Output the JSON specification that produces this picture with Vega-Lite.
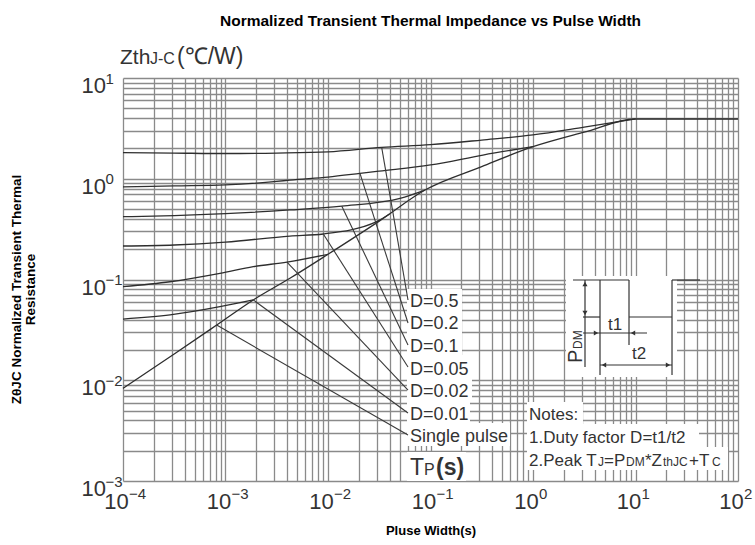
{
  "$schema": "https://vega.github.io/schema/vega-lite/v6.json",
  "width": 615,
  "height": 403,
  "autosize": {"type": "none"},
  "padding": {"left": 123, "top": 78, "right": 17, "bottom": 64},
  "background": "white",
  "title": {
    "text": "Normalized Transient Thermal Impedance vs Pulse Width",
    "font": "Liberation Sans",
    "fontSize": 15.5,
    "fontWeight": "bold",
    "color": "#000000",
    "anchor": "middle",
    "offset": 17
  },
  "config": {
    "view": {"stroke": null},
    "font": "Liberation Sans"
  },
  "resolve": {"axis": {"x": "independent", "y": "independent"}},
  "datasets": {
    "curves": [
      {"series": "Single pulse", "t": 0.0001, "z": 0.0083},
      {"series": "Single pulse", "t": 0.000316, "z": 0.0182},
      {"series": "Single pulse", "t": 0.00082, "z": 0.0353},
      {"series": "Single pulse", "t": 0.001866, "z": 0.0627},
      {"series": "Single pulse", "t": 0.00425, "z": 0.1028},
      {"series": "Single pulse", "t": 0.01, "z": 0.178},
      {"series": "Single pulse", "t": 0.0316, "z": 0.38},
      {"series": "Single pulse", "t": 0.0883, "z": 0.773},
      {"series": "Single pulse", "t": 0.316, "z": 1.32},
      {"series": "Single pulse", "t": 1, "z": 2.08},
      {"series": "Single pulse", "t": 3.16, "z": 2.9},
      {"series": "Single pulse", "t": 10, "z": 3.92},
      {"series": "Single pulse", "t": 100, "z": 3.92},

      {"series": "D=0.5", "t": 0.0001, "z": 1.82},
      {"series": "D=0.5", "t": 0.000316, "z": 1.8},
      {"series": "D=0.5", "t": 0.001, "z": 1.78},
      {"series": "D=0.5", "t": 0.00316, "z": 1.8},
      {"series": "D=0.5", "t": 0.01, "z": 1.85},
      {"series": "D=0.5", "t": 0.0334, "z": 2.05},
      {"series": "D=0.5", "t": 0.1, "z": 2.18},
      {"series": "D=0.5", "t": 0.316, "z": 2.42},
      {"series": "D=0.5", "t": 1, "z": 2.72},
      {"series": "D=0.5", "t": 3.16, "z": 3.25},
      {"series": "D=0.5", "t": 10, "z": 3.92},

      {"series": "D=0.2", "t": 0.0001, "z": 0.83},
      {"series": "D=0.2", "t": 0.000316, "z": 0.85},
      {"series": "D=0.2", "t": 0.001, "z": 0.87},
      {"series": "D=0.2", "t": 0.00316, "z": 0.94},
      {"series": "D=0.2", "t": 0.00425, "z": 0.97},
      {"series": "D=0.2", "t": 0.01, "z": 1.04},
      {"series": "D=0.2", "t": 0.0205, "z": 1.13},
      {"series": "D=0.2", "t": 0.0316, "z": 1.19},
      {"series": "D=0.2", "t": 0.1, "z": 1.37},
      {"series": "D=0.2", "t": 0.325, "z": 1.72},
      {"series": "D=0.2", "t": 1, "z": 2.08},

      {"series": "D=0.1", "t": 0.0001, "z": 0.42},
      {"series": "D=0.1", "t": 0.000316, "z": 0.43},
      {"series": "D=0.1", "t": 0.001, "z": 0.45},
      {"series": "D=0.1", "t": 0.00425, "z": 0.49},
      {"series": "D=0.1", "t": 0.01361, "z": 0.536},
      {"series": "D=0.1", "t": 0.0504, "z": 0.64},
      {"series": "D=0.1", "t": 0.0883, "z": 0.773},

      {"series": "D=0.05", "t": 0.0001, "z": 0.215},
      {"series": "D=0.05", "t": 0.000316, "z": 0.22},
      {"series": "D=0.05", "t": 0.001, "z": 0.235},
      {"series": "D=0.05", "t": 0.00425, "z": 0.27},
      {"series": "D=0.05", "t": 0.009, "z": 0.283},
      {"series": "D=0.05", "t": 0.0299, "z": 0.375},
      {"series": "D=0.05", "t": 0.0398, "z": 0.446},

      {"series": "D=0.02", "t": 0.0001, "z": 0.085},
      {"series": "D=0.02", "t": 0.000288, "z": 0.095},
      {"series": "D=0.02", "t": 0.000883, "z": 0.115},
      {"series": "D=0.02", "t": 0.001866, "z": 0.134},
      {"series": "D=0.02", "t": 0.00398, "z": 0.149},
      {"series": "D=0.02", "t": 0.01, "z": 0.178},

      {"series": "D=0.01", "t": 0.0001, "z": 0.0405},
      {"series": "D=0.01", "t": 0.000288, "z": 0.0445},
      {"series": "D=0.01", "t": 0.000883, "z": 0.0537},
      {"series": "D=0.01", "t": 0.001866, "z": 0.0627}
    ],
    "leaders": [
      {"series": "D=0.5", "t": 0.0334, "z": 2.05, "t2": 0.06033, "z2": 0.06257},
      {"series": "D=0.2", "t": 0.0205, "z": 1.13, "t2": 0.06033, "z2": 0.037},
      {"series": "D=0.1", "t": 0.01361, "z": 0.536, "t2": 0.06033, "z2": 0.02239},
      {"series": "D=0.05", "t": 0.009, "z": 0.283, "t2": 0.06033, "z2": 0.01353},
      {"series": "D=0.02", "t": 0.00398, "z": 0.149, "t2": 0.06033, "z2": 0.008001},
      {"series": "D=0.01", "t": 0.001866, "z": 0.0627, "t2": 0.06033, "z2": 0.00473},
      {"series": "Single pulse", "t": 0.00082, "z": 0.0353, "t2": 0.06033, "z2": 0.002861}
    ],
    "boxes": [
      {"part": "D=0.5", "t": 0.05898, "t2": 0.2029, "z": 0.08043, "z2": 0.04868},
      {"part": "D=0.2", "t": 0.05898, "t2": 0.2029, "z": 0.04868, "z2": 0.02944},
      {"part": "D=0.1", "t": 0.05898, "t2": 0.2029, "z": 0.02944, "z2": 0.01781},
      {"part": "D=0.05", "t": 0.05898, "t2": 0.254, "z": 0.01781, "z2": 0.01053},
      {"part": "D=0.02", "t": 0.05898, "t2": 0.254, "z": 0.01053, "z2": 0.006368},
      {"part": "D=0.01", "t": 0.05898, "t2": 0.2428, "z": 0.006368, "z2": 0.003764},
      {"part": "Single pulse", "t": 0.05898, "t2": 0.5966, "z": 0.003764, "z2": 0.002226},
      {"part": "Tp", "t": 0.05898, "t2": 0.222, "z": 0.00194, "z2": 0.001},
      {"part": "Notes", "t": 0.8739, "t2": 3.074, "z": 0.006083, "z2": 0.003679},
      {"part": "Note 1", "t": 0.8739, "t2": 41.64, "z": 0.003679, "z2": 0.002176},
      {"part": "Note 2", "t": 0.8739, "t2": 79.89, "z": 0.002176, "z2": 0.001285},
      {"part": "Pulse", "t": 2.099, "t2": 25.41, "z": 0.1083, "z2": 0.01077}
    ],
    "pulse": [
      {"part": "high level", "t": 2.456, "z": 0.09886, "t2": 8.642, "z2": 0.09886},
      {"part": "next high level", "t": 22.71, "z": 0.09886, "t2": 42.59, "z2": 0.09886},
      {"part": "rising edge", "t": 4.505, "z": 0.09886, "t2": 4.505, "z2": 0.01127},
      {"part": "falling edge", "t": 8.642, "z": 0.09886, "t2": 8.642, "z2": 0.02239},
      {"part": "low level", "t": 8.642, "z": 0.04243, "t2": 22.71, "z2": 0.04243},
      {"part": "low extension", "t": 3.074, "z": 0.04243, "t2": 4.505, "z2": 0.04243},
      {"part": "next rising edge", "t": 22.71, "z": 0.09886, "t2": 22.71, "z2": 0.01127},
      {"part": "PDM dimension", "t": 3.216, "z": 0.09886, "t2": 3.216, "z2": 0.01355},
      {"part": "t1 dimension", "t": 3.074, "z": 0.02944, "t2": 12.95, "z2": 0.02944},
      {"part": "t2 dimension", "t": 4.505, "z": 0.01417, "t2": 22.71, "z2": 0.01417}
    ],
    "arrows": [
      {"part": "PDM top", "t": 3.216, "z": 0.09022, "dir": "up"},
      {"part": "PDM bottom", "t": 3.216, "z": 0.04651, "dir": "down"},
      {"part": "t1 start", "t": 4.118, "z": 0.02944, "dir": "right"},
      {"part": "t1 end", "t": 9.454, "z": 0.02944, "dir": "left"},
      {"part": "t2 start", "t": 4.929, "z": 0.01417, "dir": "left"},
      {"part": "t2 end", "t": 20.76, "z": 0.01417, "dir": "right"}
    ],
    "texts": [
      {"kind": "curve", "text": "D=0.5", "t": 0.0631, "z": 0.05333},
      {"kind": "curve", "text": "D=0.2", "t": 0.0631, "z": 0.0319},
      {"kind": "curve", "text": "D=0.1", "t": 0.0631, "z": 0.01907},
      {"kind": "curve", "text": "D=0.05", "t": 0.0631, "z": 0.0114},
      {"kind": "curve", "text": "D=0.02", "t": 0.0631, "z": 0.006822},
      {"kind": "curve", "text": "D=0.01", "t": 0.0631, "z": 0.004077},
      {"kind": "curve", "text": "Single pulse", "t": 0.0631, "z": 0.002438},
      {"kind": "note", "text": "Notes:", "t": 0.9142, "z": 0.004031},
      {"kind": "note", "text": "1.Duty factor D=t1/t2", "t": 0.9142, "z": 0.002383},
      {"kind": "note", "text": "2.Peak T", "t": 0.9142, "z": 0.001409},
      {"kind": "note", "text": "=P", "t": 4.929, "z": 0.001409},
      {"kind": "note", "text": "*Z", "t": 12.38, "z": 0.001409},
      {"kind": "note", "text": "+T", "t": 33.27, "z": 0.001409},
      {"kind": "sub", "text": "J", "t": 4.306, "z": 0.001409},
      {"kind": "sub", "text": "DM", "t": 8.08, "z": 0.001409},
      {"kind": "sub", "text": "thJC", "t": 18.55, "z": 0.001409},
      {"kind": "sub", "text": "C", "t": 55.76, "z": 0.001409},
      {"kind": "big", "text": "T", "t": 0.0631, "z": 0.001147},
      {"kind": "mid", "text": "P", "t": 0.0864, "z": 0.001147},
      {"kind": "bigbold", "text": "(s)", "t": 0.1132, "z": 0.001147},
      {"kind": "zth", "text": "Zth", "t": 0.0000935, "z": 13.77},
      {"kind": "mid", "text": "J-C", "t": 0.0001834, "z": 13.77},
      {"kind": "big", "text": "(℃/W)", "t": 0.0003366, "z": 13.77},
      {"kind": "note", "text": "t1", "t": 5.392, "z": 0.03153},
      {"kind": "note", "text": "t2", "t": 9.245, "z": 0.01626},
      {"kind": "rot", "text": "P", "t": 3.006, "z": 0.01483},
      {"kind": "rotsub", "text": "DM", "t": 3.006, "z": 0.02042}
    ]
  },
  "layer": [
    {
      "data": {"name": "boxes"},
      "mark": {"type": "rect", "fill": "white", "stroke": null},
      "encoding": {
        "x": {
          "field": "t",
          "type": "quantitative",
          "scale": {"type": "log", "domain": [0.0001, 100], "nice": false},
          "axis": {
            "orient": "bottom",
            "values": [0.0001, 0.0002, 0.0003, 0.0004, 0.0005, 0.0006, 0.0007, 0.0008, 0.0009,
                       0.001, 0.002, 0.003, 0.004, 0.005, 0.006, 0.007, 0.008, 0.009,
                       0.01, 0.02, 0.03, 0.04, 0.05, 0.06, 0.07, 0.08, 0.09,
                       0.1, 0.2, 0.3, 0.4, 0.5, 0.6, 0.7, 0.8, 0.9,
                       1, 2, 3, 4, 5, 6, 7, 8, 9,
                       10, 20, 30, 40, 50, 60, 70, 80, 90, 100],
            "labelExpr": "indexof([0.0001, 0.001, 0.01, 0.1, 1, 10, 100], datum.value) >= 0 ? '10' : ''",
            "grid": true,
            "gridColor": "#8a8a8a",
            "gridWidth": 1.3,
            "gridOpacity": 1,
            "domain": false,
            "ticks": false,
            "tickSize": 0,
            "labelFont": "Liberation Sans",
            "labelFontSize": 22,
            "labelColor": "#333333",
            "labelAlign": "center",
            "labelBaseline": "alphabetic",
            "labelOffset": -7,
            "labelPadding": 27,
            "labelOverlap": false,
            "labelBound": false,
            "labelFlush": false,
            "title": "Pluse Width(s)",
            "titleFont": "Liberation Sans",
            "titleFontSize": 13,
            "titleFontWeight": "bold",
            "titleColor": "#000000",
            "titlePadding": 12
          }
        },
        "x2": {"field": "t2"},
        "y": {
          "field": "z",
          "type": "quantitative",
          "scale": {"type": "log", "domain": [0.001, 10], "nice": false},
          "axis": {
            "orient": "left",
            "values": [0.001, 0.002, 0.003, 0.004, 0.005, 0.006, 0.007, 0.008, 0.009,
                       0.01, 0.02, 0.03, 0.04, 0.05, 0.06, 0.07, 0.08, 0.09,
                       0.1, 0.2, 0.3, 0.4, 0.5, 0.6, 0.7, 0.8, 0.9,
                       1, 2, 3, 4, 5, 6, 7, 8, 9, 10],
            "labelExpr": "indexof([0.001, 0.01, 0.1, 1, 10], datum.value) >= 0 ? '10' : ''",
            "grid": true,
            "gridColor": "#8a8a8a",
            "gridWidth": 1.3,
            "gridOpacity": 1,
            "domain": false,
            "ticks": false,
            "tickSize": 0,
            "labelFont": "Liberation Sans",
            "labelFontSize": 22,
            "labelColor": "#333333",
            "labelAlign": "left",
            "labelBaseline": "alphabetic",
            "labelOffset": 14.5,
            "labelPadding": 42,
            "labelOverlap": false,
            "labelBound": false,
            "title": ["ZθJC Normalized Transient Thermal", "Resistance"],
            "titleFont": "Liberation Sans",
            "titleFontSize": 13.5,
            "titleFontWeight": "bold",
            "titleColor": "#000000",
            "titleLineHeight": 14,
            "titlePadding": 44,
            "titleY": 211
          }
        },
        "y2": {"field": "z2"}
      }
    },
    {
      "data": {"name": "curves"},
      "mark": {"type": "line", "color": "#2e2e2e", "strokeWidth": 1.3, "interpolate": "monotone"},
      "encoding": {
        "x": {
          "field": "t",
          "type": "quantitative",
          "axis": {
            "orient": "bottom",
            "values": [0.0001, 0.001, 0.01, 0.1, 1, 10, 100],
            "labelExpr": "datum.value == 0.0001 ? '−4' : datum.value == 0.001 ? '−3' : datum.value == 0.01 ? '−2' : datum.value == 0.1 ? '−1' : datum.value == 1 ? '0' : datum.value == 10 ? '1' : '2'",
            "grid": false,
            "domain": false,
            "ticks": false,
            "tickSize": 0,
            "labelFont": "Liberation Sans",
            "labelFontSize": 15,
            "labelColor": "#333333",
            "labelAlign": "left",
            "labelBaseline": "alphabetic",
            "labelOffset": 5.5,
            "labelPadding": 17,
            "labelOverlap": false,
            "labelBound": false,
            "labelFlush": false,
            "title": null
          }
        },
        "y": {
          "field": "z",
          "type": "quantitative",
          "axis": {
            "orient": "left",
            "values": [0.001, 0.01, 0.1, 1, 10],
            "labelExpr": "datum.value == 10 ? '1' : datum.value == 1 ? '0' : datum.value == 0.1 ? '−1' : datum.value == 0.01 ? '−2' : '−3'",
            "grid": false,
            "domain": false,
            "ticks": false,
            "tickSize": 0,
            "labelFont": "Liberation Sans",
            "labelFontSize": 15,
            "labelColor": "#333333",
            "labelAlign": "left",
            "labelBaseline": "alphabetic",
            "labelOffset": 5,
            "labelPadding": 18,
            "labelOverlap": false,
            "labelBound": false,
            "title": null
          }
        },
        "detail": {"field": "series"}
      }
    },
    {
      "data": {"name": "leaders"},
      "mark": {"type": "rule", "color": "#3a3a3a", "strokeWidth": 1.1},
      "encoding": {
        "x": {"field": "t", "type": "quantitative", "axis": null},
        "y": {"field": "z", "type": "quantitative", "axis": null},
        "x2": {"field": "t2"},
        "y2": {"field": "z2"}
      }
    },
    {
      "data": {"name": "pulse"},
      "mark": {"type": "rule", "color": "#333333", "strokeWidth": 1.2},
      "encoding": {
        "x": {"field": "t", "type": "quantitative", "axis": null},
        "y": {"field": "z", "type": "quantitative", "axis": null},
        "x2": {"field": "t2"},
        "y2": {"field": "z2"}
      }
    },
    {
      "data": {"name": "arrows"},
      "mark": {"type": "point", "filled": true, "color": "#333333", "size": 26, "opacity": 1},
      "encoding": {
        "x": {"field": "t", "type": "quantitative", "axis": null},
        "y": {"field": "z", "type": "quantitative", "axis": null},
        "shape": {
          "field": "dir",
          "type": "nominal",
          "scale": {"domain": ["up", "down", "left", "right"], "range": ["triangle-up", "triangle-down", "triangle-left", "triangle-right"]},
          "legend": null
        }
      }
    },
    {
      "data": {"name": "texts"},
      "transform": [{"filter": "datum.kind == 'curve'"}],
      "mark": {"type": "text", "align": "left", "baseline": "alphabetic", "fontSize": 18, "color": "#333333"},
      "encoding": {
        "x": {"field": "t", "type": "quantitative", "axis": null},
        "y": {"field": "z", "type": "quantitative", "axis": null},
        "text": {"field": "text"}
      }
    },
    {
      "data": {"name": "texts"},
      "transform": [{"filter": "datum.kind == 'note'"}],
      "mark": {"type": "text", "align": "left", "baseline": "alphabetic", "fontSize": 17, "color": "#333333"},
      "encoding": {
        "x": {"field": "t", "type": "quantitative", "axis": null},
        "y": {"field": "z", "type": "quantitative", "axis": null},
        "text": {"field": "text"}
      }
    },
    {
      "data": {"name": "texts"},
      "transform": [{"filter": "datum.kind == 'sub'"}],
      "mark": {"type": "text", "align": "left", "baseline": "alphabetic", "fontSize": 12, "color": "#333333"},
      "encoding": {
        "x": {"field": "t", "type": "quantitative", "axis": null},
        "y": {"field": "z", "type": "quantitative", "axis": null},
        "text": {"field": "text"}
      }
    },
    {
      "data": {"name": "texts"},
      "transform": [{"filter": "datum.kind == 'big'"}],
      "mark": {"type": "text", "align": "left", "baseline": "alphabetic", "fontSize": 23, "color": "#333333"},
      "encoding": {
        "x": {"field": "t", "type": "quantitative", "axis": null},
        "y": {"field": "z", "type": "quantitative", "axis": null},
        "text": {"field": "text"}
      }
    },
    {
      "data": {"name": "texts"},
      "transform": [{"filter": "datum.kind == 'zth'"}],
      "mark": {"type": "text", "align": "left", "baseline": "alphabetic", "fontSize": 21, "color": "#333333"},
      "encoding": {
        "x": {"field": "t", "type": "quantitative", "axis": null},
        "y": {"field": "z", "type": "quantitative", "axis": null},
        "text": {"field": "text"}
      }
    },
    {
      "data": {"name": "texts"},
      "transform": [{"filter": "datum.kind == 'mid'"}],
      "mark": {"type": "text", "align": "left", "baseline": "alphabetic", "fontSize": 16, "color": "#333333"},
      "encoding": {
        "x": {"field": "t", "type": "quantitative", "axis": null},
        "y": {"field": "z", "type": "quantitative", "axis": null},
        "text": {"field": "text"}
      }
    },
    {
      "data": {"name": "texts"},
      "transform": [{"filter": "datum.kind == 'bigbold'"}],
      "mark": {"type": "text", "align": "left", "baseline": "alphabetic", "fontSize": 23, "fontWeight": "bold", "color": "#333333"},
      "encoding": {
        "x": {"field": "t", "type": "quantitative", "axis": null},
        "y": {"field": "z", "type": "quantitative", "axis": null},
        "text": {"field": "text"}
      }
    },
    {
      "data": {"name": "texts"},
      "transform": [{"filter": "datum.kind == 'rot'"}],
      "mark": {"type": "text", "align": "left", "baseline": "alphabetic", "angle": 270, "fontSize": 20, "color": "#333333"},
      "encoding": {
        "x": {"field": "t", "type": "quantitative", "axis": null},
        "y": {"field": "z", "type": "quantitative", "axis": null},
        "text": {"field": "text"}
      }
    },
    {
      "data": {"name": "texts"},
      "transform": [{"filter": "datum.kind == 'rotsub'"}],
      "mark": {"type": "text", "align": "left", "baseline": "alphabetic", "angle": 270, "fontSize": 12, "color": "#333333"},
      "encoding": {
        "x": {"field": "t", "type": "quantitative", "axis": null},
        "y": {"field": "z", "type": "quantitative", "axis": null},
        "text": {"field": "text"}
      }
    }
  ]
}
